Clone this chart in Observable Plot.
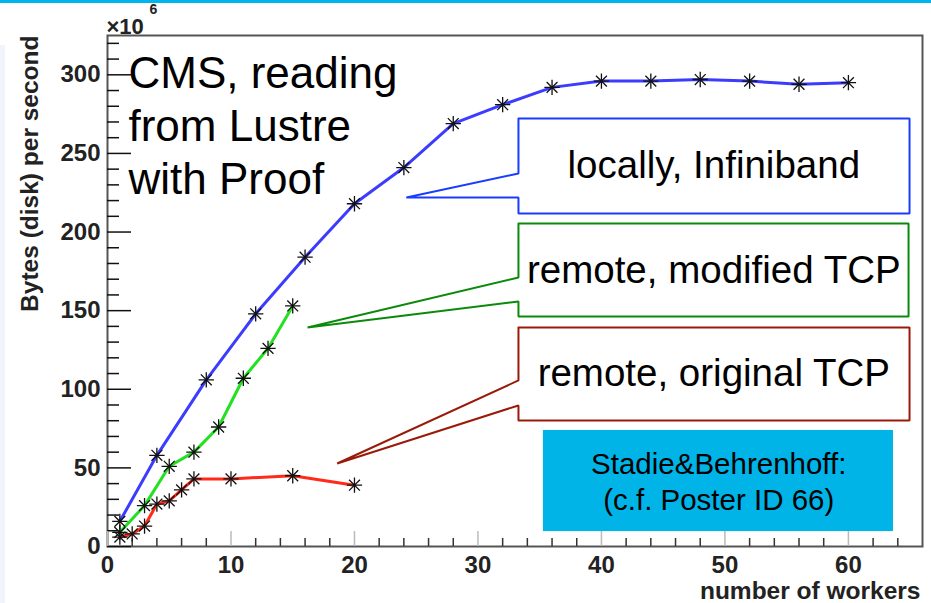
<!DOCTYPE html>
<html>
<head>
<meta charset="utf-8">
<script src="https://cdn.jsdelivr.net/npm/d3@7"></script>
<script src="https://cdn.jsdelivr.net/npm/@observablehq/plot@0.6"></script>
<style>
  html, body { margin: 0; padding: 0; background: #fff; overflow: hidden; }
  #wrap { position: relative; width: 931px; height: 603px; }
  #topbar { position: absolute; left: 0; top: 0; width: 931px; height: 3px; background: #00b4ee; }
  #leftstrip { position: absolute; left: 0; top: 45px; width: 5px; height: 558px; background: #f2f3fd; }
  svg { position: absolute; left: 0; top: 0; font-family: "Liberation Sans", Arial, sans-serif; }
</style>
</head>
<body>
<div id="wrap"><div id="leftstrip"></div><div id="topbar"></div></div>
<script>
// ---- data (values in units of 10^6 bytes/s) ----
const blueX = [1, 4, 8, 12, 16, 20, 24, 28, 32, 36, 40, 44, 48, 52, 56, 60];
const blueY = [16, 58, 106, 148, 184, 218, 241, 269, 281, 292, 296, 296, 297, 296, 294, 295];
const greenX = [1, 3, 5, 7, 9, 11, 13, 15];
const greenY = [9, 26, 51, 60, 76, 107, 126, 153];
const redX = [1, 2, 3, 4, 5, 6, 7, 10, 15, 20];
const redY = [6, 8, 13, 27, 29, 36, 43, 43, 45, 39];

const xMajorTicks = [0, 10, 20, 30, 40, 50, 60];
const xMinorTicks = [2, 4, 6, 8, 12, 14, 16, 18, 22, 24, 26, 28, 32, 34, 36, 38, 42, 44, 46, 48, 52, 54, 56, 58, 62, 64];
const yMajorTicks = [0, 50, 100, 150, 200, 250, 300];
const yMinorTicks = [10, 20, 30, 40, 60, 70, 80, 90, 110, 120, 130, 140, 160, 170, 180, 190, 210, 220, 230, 240, 260, 270, 280, 290, 310, 320];

const xLabel = "number of workers";
const yLabel = "Bytes (disk) per second";
const titleLines = ["CMS, reading", "from Lustre", "with Proof"];
const titleLineY = [291.3, 257.6, 224.5];
const titleX = 1.7;

// callout labels (annotation positions in data units)
const calloutText = ["locally, Infiniband", "remote, modified TCP", "remote, original TCP"];
const calloutTextY = [234.1, 167.9, 101.8];
const calloutTextX = 49.1;
// box: [left, right, top, bottom, pointerOutY, pointerBackY, tipX, tipY]
const calloutBoxes = [
  [33.28, 64.95, 272.2, 211.8, 237.2, 222.0, 24.2, 222.0],
  [33.28, 64.87, 205.4, 146.3, 171.1, 155.8, 16.2, 139.3],
  [33.28, 64.95, 139.3, 80.1, 105.6, 89.7, 18.6, 52.8]
];
const noteLines = ["Stadie&Behrenhoff:", "(c.f. Poster ID 66)"];
const noteLineY = [46.4, 23.5];
const noteX = 49.5;
const noteBox = [35.3, 63.65, 73.8, 9.5];

// ---- build ----
const W = 931, H = 603, mL = 107, mT = 35, mR = 9, mB = 57;
const frameW = W - mL - mR, frameH = H - mT - mB;
const font = "'Liberation Sans', Arial, sans-serif";

const toPts = (xs, ys) => xs.map((x, i) => ({x, y: ys[i]}));
const blue = toPts(blueX, blueY), green = toPts(greenX, greenY), red = toPts(redX, redY);
const allPts = blue.concat(green, red);

const calloutColors = ["#1a3cff", "#0a8a0a", "#9a1a0a"];
const lineColors = ["#3c3cff", "#22e022", "#ff2a1a"];

function polygon(b) {
  const [l, r, t, bo, o, k, tx, ty] = b;
  return [[l, t], [r, t], [r, bo], [l, bo], [l, k], [tx, ty], [l, o], [l, t]];
}

const marks = [
  // frame
  Plot.frame({stroke: "#555", strokeWidth: 2}),
  // ticks
  Plot.tickY(yMajorTicks, {y: d => d, insetRight: frameW - 24, stroke: "#111", strokeWidth: 1.5}),
  Plot.tickY(yMinorTicks, {y: d => d, insetRight: frameW - 12, stroke: "#111", strokeWidth: 1.5}),
  Plot.tickX(xMajorTicks, {x: d => d, insetTop: frameH - 15, stroke: "#bbb", strokeWidth: 1.5}),
  Plot.tickX(xMinorTicks, {x: d => d, insetTop: frameH - 8, stroke: "#333", strokeWidth: 1.5}),
  Plot.axisX({ticks: xMajorTicks, tickSize: 0, tickPadding: 9, fontSize: 24, fontWeight: "bold", fill: "#222", label: null, fontFamily: font}),
  Plot.axisY({ticks: yMajorTicks, tickSize: 0, tickPadding: 7, fontSize: 24, fontWeight: "bold", fill: "#222", label: null, fontFamily: font}),
  // axis titles
  Plot.text([yLabel], {frameAnchor: "top-left", text: d => d, rotate: -90, textAnchor: "end", lineAnchor: "middle", dx: -77, dy: 0, fontSize: 24.5, fontWeight: "bold", fill: "#222", fontFamily: font}),
  Plot.text([xLabel], {frameAnchor: "bottom-right", text: d => d, textAnchor: "end", lineAnchor: "bottom", dx: -2, dy: 52, fontSize: 24.5, fontWeight: "bold", fill: "#222", fontFamily: font}),
  Plot.text(["×10"], {frameAnchor: "top-left", text: d => d, textAnchor: "start", lineAnchor: "bottom", dx: -1, dy: -2, fontSize: 22, fontWeight: "bold", fill: "#222", fontFamily: font}),
  Plot.text(["6"], {frameAnchor: "top-left", text: d => d, textAnchor: "start", lineAnchor: "bottom", dx: 42, dy: -22, fontSize: 14, fontWeight: "bold", fill: "#222", fontFamily: font}),
  // data lines
  Plot.line(blue, {x: "x", y: "y", stroke: lineColors[0], strokeWidth: 3}),
  Plot.line(green, {x: "x", y: "y", stroke: lineColors[1], strokeWidth: 3}),
  Plot.line(red, {x: "x", y: "y", stroke: lineColors[2], strokeWidth: 3}),
  // star markers (ROOT marker style 3: + and x)
  Plot.dot(allPts, {x: "x", y: "y", symbol: "plus", r: 5, stroke: "#111", strokeWidth: 1.3}),
  Plot.dot(allPts, {x: "x", y: "y", symbol: "times", r: 5, stroke: "#111", strokeWidth: 1.3}),
  // title text
  Plot.text(titleLines, {x: () => titleX, y: (d, i) => titleLineY[i], text: d => d, textAnchor: "start", lineAnchor: "bottom", fontSize: 44, fill: "#000", fontFamily: font}),
];

calloutBoxes.forEach((b, i) => {
  marks.push(Plot.line(polygon(b), {x: d => d[0], y: d => d[1], stroke: calloutColors[i], strokeWidth: 2, fill: "white", strokeLinejoin: "miter"}));
  marks.push(Plot.text([calloutText[i]], {x: () => calloutTextX, y: () => calloutTextY[i], text: d => d, textAnchor: "middle", lineAnchor: "bottom", fontSize: 38.5, fill: "#000", fontFamily: font}));
});

marks.push(Plot.rect([noteBox], {x1: d => d[0], x2: d => d[1], y1: d => d[3], y2: d => d[2], fill: "#00b4e8"}));
marks.push(Plot.text(noteLines, {x: () => noteX, y: (d, i) => noteLineY[i], text: d => d, textAnchor: "middle", lineAnchor: "bottom", fontSize: 29.5, fill: "#000", fontFamily: font}));

const chart = Plot.plot({
  width: W, height: H,
  marginLeft: mL, marginTop: mT, marginRight: mR, marginBottom: mB,
  style: {background: "transparent", fontFamily: font, overflow: "visible"},
  x: {domain: [0, 66], axis: null},
  y: {domain: [0, 325], axis: null},
  marks
});
document.getElementById("wrap").appendChild(chart);
</script>
</body>
</html>
